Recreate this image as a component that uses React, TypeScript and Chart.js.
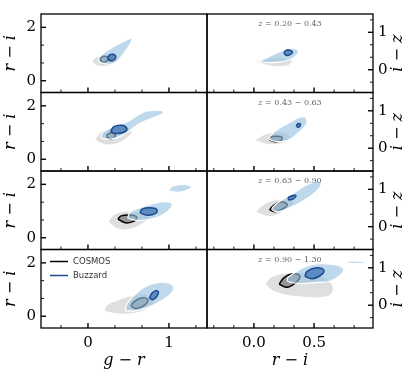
import React, { useEffect, useRef } from 'react';
import { Chart, registerables } from 'chart.js';

Chart.register(...registerables);

type P = [number, number];

// ---- tick values ----
const GR_MAJOR = [0, 1];
const GR_MINOR = [-0.333, 0.333, 0.667, 1.333];
const RI_LEFT_MAJOR = [0, 2];
const RI_LEFT_MINOR = [0.667, 1.333];
const RI_BOTTOM_MAJOR = [0, 0.5];
const RI_BOTTOM_MINOR = [-0.333, -0.167, 0.167, 0.333, 0.667, 0.833];
const IZ_MAJOR = [0, 1];
const IZ_MINOR = [-0.333, 0.333, 0.667, 1.333];

const Z_BINS = ['0.20 − 0.43', '0.43 − 0.63', '0.63 − 0.90', '0.90 − 1.30'];
const SERIES = ['COSMOS', 'Buzzard'];

// ---- contours: left column (g-r, r-i) ----
const L1_COSMOS_OUT: P[] = [[0.06,0.70],[0.13,0.59],[0.24,0.58],[0.34,0.70],[0.36,0.86],[0.29,0.96],[0.16,0.92],[0.08,0.81]];
const L1_COSMOS_IN: P[] = [[0.15,0.77],[0.19,0.69],[0.24,0.75],[0.25,0.86],[0.20,0.92],[0.16,0.86]];
const L1_BUZZ_OUT: P[] = [[0.55,1.63],[0.46,1.50],[0.31,1.27],[0.17,0.98],[0.13,0.76],[0.20,0.64],[0.33,0.66],[0.46,1.10],[0.53,1.42]];
const L1_BUZZ_IN: P[] = [[0.25,0.79],[0.30,0.75],[0.34,0.85],[0.33,0.97],[0.28,0.98],[0.25,0.89]];

const L2_COSMOS_OUT: P[] = [[0.10,0.74],[0.17,0.62],[0.30,0.58],[0.45,0.76],[0.53,1.02],[0.46,1.17],[0.32,1.18],[0.17,1.02]];
const L2_COSMOS_IN: P[] = [[0.23,0.85],[0.28,0.76],[0.33,0.83],[0.33,0.95],[0.28,0.98],[0.24,0.92]];
const L2_BUZZ_OUT: P[] = [[0.91,1.84],[0.72,1.80],[0.60,1.62],[0.48,1.40],[0.32,1.22],[0.19,1.02],[0.17,0.80],[0.33,0.78],[0.48,1.00],[0.62,1.30],[0.74,1.48],[0.93,1.72]];
const L2_BUZZ_IN: P[] = [[0.28,1.03],[0.35,0.96],[0.45,1.02],[0.48,1.15],[0.42,1.27],[0.32,1.22]];

const L3_COSMOS_OUT: P[] = [[0.26,0.60],[0.36,0.38],[0.47,0.33],[0.64,0.50],[0.74,0.80],[0.52,0.96],[0.33,0.85]];
const L3_COSMOS_IN: P[] = [[0.37,0.70],[0.46,0.56],[0.57,0.62],[0.60,0.78],[0.52,0.85],[0.41,0.82]];
const L3_BUZZ_OUT: P[] = [[0.49,0.73],[0.64,0.64],[0.85,0.76],[0.98,0.98],[1.04,1.26],[0.95,1.35],[0.80,1.28],[0.64,1.13],[0.52,0.95]];
const L3_BUZZ_UP: P[] = [[0.99,1.75],[1.14,1.71],[1.28,1.89],[1.19,2.00],[1.04,1.93]];
const L3_BUZZ_IN: P[] = [[0.64,0.94],[0.73,0.84],[0.84,0.92],[0.85,1.06],[0.77,1.12],[0.67,1.07]];

const L4_COSMOS_OUT: P[] = [[0.21,0.22],[0.35,0.13],[0.52,0.13],[0.70,0.25],[0.80,0.50],[0.72,0.78],[0.52,0.72],[0.35,0.55],[0.24,0.40]];
const L4_COSMOS_IN: P[] = [[0.53,0.38],[0.60,0.29],[0.70,0.42],[0.74,0.62],[0.67,0.69],[0.57,0.55]];
const L4_BUZZ_OUT: P[] = [[0.46,0.20],[0.62,0.22],[0.78,0.38],[0.97,0.70],[1.06,1.02],[1.02,1.22],[0.88,1.27],[0.70,1.10],[0.57,0.78],[0.48,0.45]];
const L4_BUZZ_IN: P[] = [[0.76,0.68],[0.80,0.62],[0.85,0.74],[0.87,0.90],[0.84,0.96],[0.79,0.86]];

// ---- contours: right column (r-i, i-z) ----
const R1_COSMOS_OUT: P[] = [[0.03,0.22],[0.15,0.12],[0.28,0.13],[0.31,0.24],[0.17,0.30]];
const R1_BUZZ_OUT: P[] = [[0.04,0.22],[0.15,0.39],[0.29,0.57],[0.36,0.54],[0.37,0.46],[0.32,0.30],[0.22,0.21],[0.13,0.19]];
const R1_BUZZ_IN: P[] = [[0.25,0.43],[0.275,0.38],[0.31,0.42],[0.32,0.48],[0.29,0.53],[0.26,0.50]];

const R2_COSMOS_OUT: P[] = [[0.02,0.22],[0.13,0.12],[0.26,0.18],[0.29,0.30],[0.26,0.40],[0.12,0.38]];
const R2_COSMOS_IN: P[] = [[0.13,0.22],[0.18,0.17],[0.23,0.22],[0.23,0.30],[0.18,0.32],[0.14,0.30]];
const R2_BUZZ_OUT: P[] = [[0.43,0.84],[0.38,0.83],[0.28,0.66],[0.175,0.45],[0.13,0.24],[0.26,0.19],[0.36,0.38],[0.44,0.66]];
const R2_BUZZ_IN: P[] = [[0.355,0.58],[0.37,0.56],[0.385,0.60],[0.385,0.65],[0.37,0.66],[0.355,0.62]];

const R3_COSMOS_OUT: P[] = [[0.025,0.40],[0.13,0.30],[0.26,0.45],[0.32,0.66],[0.175,0.69],[0.075,0.56]];
const R3_COSMOS_IN: P[] = [[0.13,0.45],[0.18,0.40],[0.26,0.51],[0.275,0.61],[0.225,0.66],[0.16,0.56]];
const R3_BUZZ_OUT: P[] = [[0.53,1.23],[0.44,1.12],[0.34,0.92],[0.22,0.69],[0.15,0.48],[0.20,0.40],[0.30,0.51],[0.42,0.71],[0.52,0.95],[0.56,1.15]];
const R3_BUZZ_IN: P[] = [[0.29,0.71],[0.325,0.74],[0.35,0.82],[0.34,0.84],[0.31,0.82],[0.285,0.77]];

const R4_COSMOS_OUT: P[] = [[0.10,0.56],[0.175,0.38],[0.38,0.25],[0.62,0.27],[0.65,0.51],[0.55,0.77],[0.30,0.84],[0.15,0.74]];
const R4_COSMOS_IN: P[] = [[0.21,0.56],[0.28,0.48],[0.36,0.64],[0.38,0.79],[0.325,0.84],[0.25,0.74]];
const R4_BUZZ_OUT: P[] = [[0.28,0.74],[0.38,0.95],[0.47,1.08],[0.63,1.10],[0.74,1.00],[0.73,0.84],[0.63,0.64],[0.53,0.61],[0.38,0.58],[0.28,0.64]];
const R4_BUZZ_UP: P[] = [[0.76,1.13],[0.85,1.11],[0.93,1.14],[0.86,1.18],[0.78,1.17]];
const R4_BUZZ_IN: P[] = [[0.425,0.77],[0.49,0.71],[0.57,0.84],[0.58,0.95],[0.52,1.00],[0.44,0.90]];

type Panel = { cosmosOut: P[][]; cosmosIn: P[][]; buzzOut: P[][]; buzzIn: P[][] };

const LEFT_PANELS: Panel[] = [
  { cosmosOut: [L1_COSMOS_OUT], cosmosIn: [L1_COSMOS_IN], buzzOut: [L1_BUZZ_OUT], buzzIn: [L1_BUZZ_IN] },
  { cosmosOut: [L2_COSMOS_OUT], cosmosIn: [L2_COSMOS_IN], buzzOut: [L2_BUZZ_OUT], buzzIn: [L2_BUZZ_IN] },
  { cosmosOut: [L3_COSMOS_OUT], cosmosIn: [L3_COSMOS_IN], buzzOut: [L3_BUZZ_OUT, L3_BUZZ_UP], buzzIn: [L3_BUZZ_IN] },
  { cosmosOut: [L4_COSMOS_OUT], cosmosIn: [L4_COSMOS_IN], buzzOut: [L4_BUZZ_OUT], buzzIn: [L4_BUZZ_IN] },
];
const RIGHT_PANELS: Panel[] = [
  { cosmosOut: [R1_COSMOS_OUT], cosmosIn: [], buzzOut: [R1_BUZZ_OUT], buzzIn: [R1_BUZZ_IN] },
  { cosmosOut: [R2_COSMOS_OUT], cosmosIn: [R2_COSMOS_IN], buzzOut: [R2_BUZZ_OUT], buzzIn: [R2_BUZZ_IN] },
  { cosmosOut: [R3_COSMOS_OUT], cosmosIn: [R3_COSMOS_IN], buzzOut: [R3_BUZZ_OUT], buzzIn: [R3_BUZZ_IN] },
  { cosmosOut: [R4_COSMOS_OUT], cosmosIn: [R4_COSMOS_IN], buzzOut: [R4_BUZZ_OUT, R4_BUZZ_UP], buzzIn: [R4_BUZZ_IN] },
];

const COSMOS_LINE = '#000000';
const BUZZ_LINE = '#1c4b8e';

const STYLE: Record<string, any> = {
  cosmosOut: { backgroundColor: '#dfdfdf', borderColor: '#dfdfdf', borderWidth: 1, order: 4 },
  cosmosIn: { backgroundColor: 'rgba(130,130,130,0.8)', borderColor: COSMOS_LINE, borderWidth: 1.5, order: 3 },
  buzzOut: { backgroundColor: 'rgba(150,192,225,0.62)', borderColor: '#ffffff', borderWidth: 1.2, order: 2 },
  buzzIn: { backgroundColor: 'rgba(70,120,185,0.8)', borderColor: BUZZ_LINE, borderWidth: 1.5, order: 1 },
};

function contourDataset(pts: P[], kind: string, xAxisID: string, yAxisID: string) {
  const data = pts.map(([x, y]) => ({ x, y }));
  data.push({ x: pts[0][0], y: pts[0][1] });
  return {
    data,
    xAxisID,
    yAxisID,
    fill: 'shape',
    tension: 0.4,
    pointRadius: 0,
    pointHoverRadius: 0,
    borderJoinStyle: 'round',
    ...STYLE[kind],
  };
}

function buildDatasets() {
  const out: any[] = [];
  const cols: [Panel[], string, string][] = [[LEFT_PANELS, 'xL', 'yL'], [RIGHT_PANELS, 'xR', 'yR']];
  for (const [panels, xid, yp] of cols) {
    panels.forEach((p, r) => {
      const yid = yp + r;
      (['cosmosOut', 'cosmosIn', 'buzzOut', 'buzzIn'] as const).forEach((k) => {
        p[k].forEach((pts) => out.push(contourDataset(pts, k, xid, yid)));
      });
    });
  }
  return out;
}

const SERIF = '"DejaVu Serif", serif';
const tickFont = { family: SERIF, size: 15 };
const titleFont = { family: SERIF, size: 16, style: 'italic' as const };

function setTicks(values: number[]) {
  return (s: any) => { s.ticks = values.map((value) => ({ value })); };
}

function buildScales() {
  const scales: any = {};
  scales.xL = {
    type: 'linear', axis: 'x', position: 'bottom', stack: 'bx', stackWeight: 1, weight: 1,
    min: -0.58, max: 1.47, bounds: 'data',
    grid: { display: false, drawTicks: false }, border: { display: false },
    afterBuildTicks: setTicks(GR_MAJOR),
    afterFit: (s: any) => { s.height = 51; },
    ticks: { font: tickFont, color: '#000', padding: 6, maxRotation: 0, autoSkip: false, callback: (v: number) => String(v) },
    title: { display: true, text: 'g − r', font: titleFont, color: '#000', padding: { top: 0, bottom: 9 } },
  };
  scales.xR = {
    type: 'linear', axis: 'x', position: 'bottom', stack: 'bx', stackWeight: 1, weight: 2,
    min: -0.39, max: 0.99, bounds: 'data',
    grid: { display: false, drawTicks: false }, border: { display: false },
    afterBuildTicks: setTicks(RI_BOTTOM_MAJOR),
    afterFit: (s: any) => { s.height = 51; },
    ticks: { font: tickFont, color: '#000', padding: 6, maxRotation: 0, autoSkip: false, callback: (v: number) => v.toFixed(1) },
    title: { display: true, text: 'r − i', font: titleFont, color: '#000', padding: { top: 0, bottom: 9 } },
  };
  for (let r = 0; r < 4; r++) {
    scales['yL' + r] = {
      type: 'linear', axis: 'y', position: 'left', stack: 'ly', stackWeight: 1, weight: 4 - r,
      min: -0.44, max: 2.5, bounds: 'data',
      grid: { display: false, drawTicks: false }, border: { display: false },
      afterBuildTicks: setTicks(RI_LEFT_MAJOR),
      afterFit: (s: any) => { s.width = 41; },
      ticks: { font: tickFont, color: '#000', padding: 5, autoSkip: false, callback: (v: number) => String(v) },
      title: { display: true, text: 'r − i', font: titleFont, color: '#000', padding: { top: 1, bottom: 0 } },
    };
    scales['yR' + r] = {
      type: 'linear', axis: 'y', position: 'right', stack: 'ry', stackWeight: 1, weight: r + 1,
      min: -0.61, max: 1.49, bounds: 'data',
      grid: { display: false, drawTicks: false }, border: { display: false },
      afterBuildTicks: setTicks(IZ_MAJOR),
      afterFit: (s: any) => { s.width = 42; },
      ticks: { font: tickFont, color: '#000', padding: 5, autoSkip: false, callback: (v: number) => String(v) },
      title: { display: false },
    };
  }
  return scales;
}

function seg(ctx: CanvasRenderingContext2D, x1: number, y1: number, x2: number, y2: number, w: number) {
  ctx.lineWidth = w;
  ctx.beginPath();
  ctx.moveTo(x1, y1);
  ctx.lineTo(x2, y2);
  ctx.stroke();
}

function drawPanelFrame(ctx: CanvasRenderingContext2D, xs: any, ys: any, xMaj: number[], xMin: number[], yMaj: number[], yMin: number[], side: 'left' | 'right') {
  ctx.strokeStyle = '#000';
  const { left, right } = xs;
  const { top, bottom } = ys;
  for (const v of xMaj) { const p = xs.getPixelForValue(v); seg(ctx, p, bottom, p, bottom - 5, 1.4); }
  for (const v of xMin) { const p = xs.getPixelForValue(v); seg(ctx, p, bottom, p, bottom - 3, 0.9); }
  const sx = side === 'left' ? left : right;
  const d = side === 'left' ? 1 : -1;
  for (const v of yMaj) { const p = ys.getPixelForValue(v); seg(ctx, sx, p, sx + 5 * d, p, 1.4); }
  for (const v of yMin) { const p = ys.getPixelForValue(v); seg(ctx, sx, p, sx + 3 * d, p, 0.9); }
  ctx.lineWidth = 1.3;
  ctx.strokeRect(left, top, right - left, bottom - top);
}

const panelPlugin = {
  id: 'panelDecor',
  afterDatasetsDraw(chart: any) {
    const ctx: CanvasRenderingContext2D = chart.ctx;
    const xL = chart.scales.xL;
    const xR = chart.scales.xR;
    ctx.save();
    for (let r = 0; r < 4; r++) {
      const yl = chart.scales['yL' + r];
      const yr = chart.scales['yR' + r];
      drawPanelFrame(ctx, xL, yl, GR_MAJOR, GR_MINOR, RI_LEFT_MAJOR, RI_LEFT_MINOR, 'left');
      drawPanelFrame(ctx, xR, yr, RI_BOTTOM_MAJOR, RI_BOTTOM_MINOR, IZ_MAJOR, IZ_MINOR, 'right');

      // redshift bin label
      const rest = ' = ' + Z_BINS[r];
      ctx.font = 'italic 8px ' + SERIF;
      const wz = ctx.measureText('z').width;
      ctx.font = '8px ' + SERIF;
      const wr = ctx.measureText(rest).width;
      const cx = (xR.left + xR.right) / 2;
      const x0 = cx - (wz + wr) / 2;
      const cy = yr.top + 10;
      ctx.fillStyle = '#666';
      ctx.textAlign = 'left';
      ctx.textBaseline = 'middle';
      ctx.font = 'italic 8px ' + SERIF;
      ctx.fillText('z', x0, cy);
      ctx.font = '8px ' + SERIF;
      ctx.fillText(rest, x0 + wz, cy);

      // right axis title (rotated counter-clockwise)
      ctx.save();
      ctx.translate(chart.width - 17, (yr.top + yr.bottom) / 2);
      ctx.rotate(-Math.PI / 2);
      ctx.font = 'italic 16px ' + SERIF;
      ctx.fillStyle = '#000';
      ctx.textAlign = 'center';
      ctx.textBaseline = 'middle';
      ctx.fillText('i − z', 0, 0);
      ctx.restore();
    }

    // legend in bottom-left panel
    const y3 = chart.scales.yL3;
    const lx = xL.left + 9;
    const rows: [string, string, number][] = [[SERIES[0], COSMOS_LINE, y3.top + 12], [SERIES[1], BUZZ_LINE, y3.top + 26]];
    ctx.font = '8.5px "DejaVu Sans", sans-serif';
    ctx.textAlign = 'left';
    ctx.textBaseline = 'middle';
    for (const [label, color, ly] of rows) {
      ctx.strokeStyle = color;
      seg(ctx, lx, ly, lx + 18, ly, 1.5);
      ctx.fillStyle = '#333';
      ctx.fillText(label, lx + 23, ly);
    }
    ctx.restore();
  },
};

export default function App() {
  const ref = useRef<HTMLCanvasElement>(null);
  useEffect(() => {
    if (!ref.current) return;
    const chart = new Chart(ref.current, {
      type: 'line',
      data: { datasets: buildDatasets() },
      options: {
        responsive: false,
        animation: false,
        events: [],
        layout: { padding: { top: 4, left: 0, right: 0, bottom: 0 } },
        plugins: { legend: { display: false }, tooltip: { enabled: false } },
        scales: buildScales(),
      } as any,
      plugins: [panelPlugin as any],
    });
    return () => chart.destroy();
  }, []);
  return (
    <div style={{ position: 'absolute', left: 0, top: 0, width: 415, height: 379, background: '#fff' }}>
      <canvas ref={ref} width={415} height={379} style={{ display: 'block' }} />
    </div>
  );
}
